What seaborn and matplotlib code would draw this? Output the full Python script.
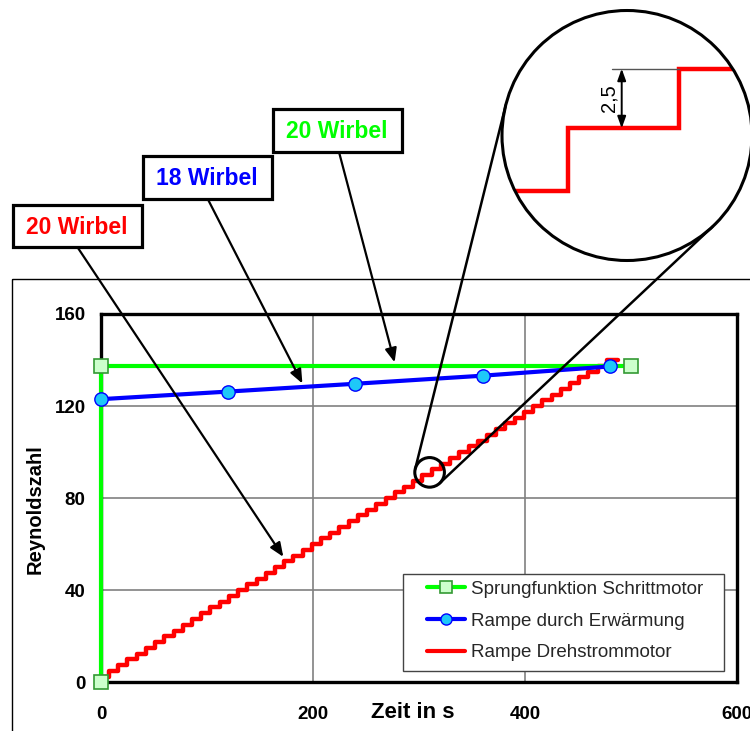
import numpy as np
import pandas as pd
import matplotlib
matplotlib.use("Agg")
import matplotlib.pyplot as plt
import seaborn as sns
from matplotlib.patches import Rectangle, Circle
from matplotlib.lines import Line2D

# ---------------- data ----------------
green_t = [0, 0, 500]
green_re = [0, 137.5, 137.5]

blue_t = [0, 120, 240, 360, 480]
blue_re = [123.0, 126.3, 129.7, 133.2, 137.2]

red_t = [0, 7.5, 16.2, 24.9, 33.6, 42.3, 51.0, 59.7, 68.4, 77.1, 85.8, 94.5,
         103.2, 111.9, 120.6, 129.3, 138.0, 146.7, 155.4, 164.1, 172.8, 181.5,
         190.2, 198.9, 207.6, 216.3, 225.0, 233.7, 242.4, 251.1, 259.8, 268.5,
         277.2, 285.9, 294.6, 303.3, 312.0, 320.7, 329.4, 338.1, 346.8, 355.5,
         364.2, 372.9, 381.6, 390.3, 399.0, 407.7, 416.4, 425.1, 433.8, 442.5,
         451.2, 459.9, 468.6, 477.3, 488.0]
red_re = [2.5, 5.0, 7.5, 10.0, 12.5, 15.0, 17.5, 20.0, 22.5, 25.0, 27.5, 30.0,
          32.5, 35.0, 37.5, 40.0, 42.5, 45.0, 47.5, 50.0, 52.5, 55.0, 57.5,
          60.0, 62.5, 65.0, 67.5, 70.0, 72.5, 75.0, 77.5, 80.0, 82.5, 85.0,
          87.5, 90.0, 92.5, 95.0, 97.5, 100.0, 102.5, 105.0, 107.5, 110.0,
          112.5, 115.0, 117.5, 120.0, 122.5, 125.0, 127.5, 130.0, 132.5,
          135.0, 137.5, 140.0, 140.0]

x_ticks = [0, 200, 400, 600]
y_ticks = [0, 40, 80, 120, 160]
legend_labels = ["Sprungfunktion Schrittmotor", "Rampe durch Erwärmung",
                 "Rampe Drehstrommotor"]
box_labels = ["20 Wirbel", "18 Wirbel", "20 Wirbel"]
x_label = "Zeit in s"
y_label = "Reynoldszahl"
step_label = "2,5"

GREEN = "#00ff00"
BLUE = "#0000ff"
RED = "#ff0000"

# ---------------- style ----------------
sns.set_theme(style="white")
plt.rcParams["font.family"] = ["Liberation Sans", "DejaVu Sans"]

W, H = 750, 731
fig = plt.figure(figsize=(W / 100, H / 100), dpi=100)
fig.patch.set_facecolor("white")

x0p, x1p, y0p, y1p = 101, 737, 682.3, 314.0
ax = fig.add_axes([x0p / W, (H - y0p) / H, (x1p - x0p) / W, (y0p - y1p) / H])
ax.set_facecolor("white")

df_g = pd.DataFrame({"t": green_t, "re": green_re})
df_b = pd.DataFrame({"t": blue_t, "re": blue_re})
df_r = pd.DataFrame({"t": red_t, "re": red_re})

sns.lineplot(data=df_r, x="t", y="re", ax=ax, estimator=None, sort=False,
             color=RED, lw=3.2, drawstyle="steps-post", zorder=3, clip_on=False)
sns.lineplot(data=df_g, x="t", y="re", ax=ax, estimator=None, sort=False,
             color=GREEN, lw=3.0, marker="s", markersize=10.5,
             markerfacecolor="#ccffcc", markeredgecolor="#339933",
             markeredgewidth=1.2, zorder=4, clip_on=False)
sns.lineplot(data=df_b, x="t", y="re", ax=ax, estimator=None, sort=False,
             color=BLUE, lw=3.0, marker="o", markersize=9.6,
             markerfacecolor="#1ec8f8", markeredgecolor=BLUE,
             markeredgewidth=1.0, zorder=5, clip_on=False)

ax.set_xlim(0, 600)
ax.set_ylim(0, 160)
ax.set_xticks(x_ticks)
ax.set_yticks(y_ticks)
ax.set_xticklabels([str(v) for v in x_ticks], fontweight="bold")
ax.set_yticklabels([str(v) for v in y_ticks], fontweight="bold")
ax.tick_params(axis="both", labelsize=13.5, width=2.5, length=5,
               color="black", labelcolor="black", direction="out")
ax.tick_params(axis="x", pad=12)
ax.tick_params(axis="y", pad=6)
ax.grid(True, color="#808080", lw=1.2)
ax.set_axisbelow(True)
for s in ax.spines.values():
    s.set_color("black")
    s.set_linewidth(2.4)
ax.set_xlabel("")
ax.set_ylabel("")
if ax.get_legend():
    ax.get_legend().remove()

# ---------------- overlay (image pixel coordinates) ----------------
ov = fig.add_axes([0, 0, 1, 1], zorder=10)
ov.set_xlim(0, W)
ov.set_ylim(H, 0)
ov.axis("off")
ov.patch.set_alpha(0)


def data_px(t, re):
    dx, dy = ax.transData.transform((t, re))
    return dx, H - dy


# outer chart border
ov.add_patch(Rectangle((11.7, 279), 800, 500, fill=False, ec="black", lw=1.0,
                       clip_on=False))

# axis labels
ov.text(35, 509, y_label, rotation=90, ha="center", va="center",
        fontsize=14.5, fontweight="bold", color="black")
ov.text(413, 712, x_label, ha="center", va="center", fontsize=16,
        fontweight="bold", color="black")

# annotation boxes with arrows
boxes = [((12.7, 205, 129, 42), RED, (78, 248), (172, 54.5)),
         ((142.7, 156, 129, 43), BLUE, (208, 199.5), (190, 129.8)),
         ((272.7, 109.3, 129, 42.4), GREEN, (339, 152), (277, 139.0))]
for lab, (rect, col, tail, tip) in zip(box_labels, boxes):
    bx, by, bw, bh = rect
    ov.add_patch(Rectangle((bx, by), bw, bh, fc="white", ec="black", lw=2.3,
                           zorder=6))
    ov.text(bx + bw / 2, by + bh / 2 + 1, lab, ha="center", va="center",
            fontsize=16.5, fontweight="bold", color=col, zorder=7)
    ov.annotate("", xy=data_px(*tip), xytext=tail,
                arrowprops=dict(arrowstyle="-|>,head_length=0.6,head_width=0.25",
                                color="black", lw=1.6, mutation_scale=14,
                                shrinkA=0, shrinkB=0), zorder=5)

# magnifier
sc_c, sc_r = data_px(310, 91.2), 14.8
bc_c, bc_r = (627.0, 135.5), 125.0
small = Circle(sc_c, sc_r, fill=False, ec="black", lw=2.2, zorder=6)
big = Circle(bc_c, bc_r, fill=False, ec="black", lw=2.2, zorder=6,
             clip_on=False)
ov.add_patch(small)
ov.add_patch(big)

c1 = np.array(sc_c)
c2 = np.array(bc_c)
d = c2 - c1
D = np.hypot(*d)
ang = np.arctan2(d[1], d[0])
off = np.arccos((sc_r - bc_r) / D)
for sgn in (1, -1):
    n = np.array([np.cos(ang + sgn * off), np.sin(ang + sgn * off)])
    p1 = c1 + sc_r * n
    p2 = c2 + bc_r * n
    ov.plot([p1[0], p2[0]], [p1[1], p2[1]], color="black", lw=1.8, zorder=5,
            solid_capstyle="round")

# zoomed stair inside big circle
clipc = Circle(bc_c, bc_r, transform=ov.transData)
mx = [500, 568, 568, 679, 679, 760]
my = [190.7, 190.7, 128.3, 128.3, 68.7, 68.7]
ln, = ov.plot(mx, my, color=RED, lw=3.2, zorder=5, solid_joinstyle="miter")
ln.set_clip_path(clipc)
ov.plot([611.7, 679], [68.7, 68.7], color="#555555", lw=1.0, zorder=5)
ov.annotate("", xy=(621.7, 68.7), xytext=(621.7, 128.3),
            arrowprops=dict(arrowstyle="<|-|>,head_length=0.5,head_width=0.18",
                            color="black", lw=1.4, mutation_scale=14,
                            shrinkA=0, shrinkB=0), zorder=6)
ov.text(609, 98, step_label, rotation=90, ha="center", va="center",
        fontsize=14.5, color="black", zorder=6)

# legend (frame drawn separately)
ov.add_patch(Rectangle((403, 574), 321, 97, fc="white", ec="#444444", lw=1.0,
                       zorder=7))
handles = [
    Line2D([], [], color=GREEN, lw=3, marker="s", markersize=8.6,
           markerfacecolor="#ccffcc", markeredgecolor="#339933",
           markeredgewidth=1.2),
    Line2D([], [], color=BLUE, lw=3, marker="o", markersize=8.0,
           markerfacecolor="#1ec8f8", markeredgecolor=BLUE,
           markeredgewidth=1.0),
    Line2D([], [], color=RED, lw=3),
]
leg = ov.legend(handles, legend_labels, loc="center left",
                bbox_to_anchor=(426.7 / W, 1 - 621 / H),
                bbox_transform=fig.transFigure, frameon=False,
                fontsize=13.5, handlelength=2.05, handletextpad=0.3,
                labelspacing=0.78, borderpad=0, borderaxespad=0)
leg.set_zorder(8)

fig.savefig("out.png", dpi=100, facecolor="white")
